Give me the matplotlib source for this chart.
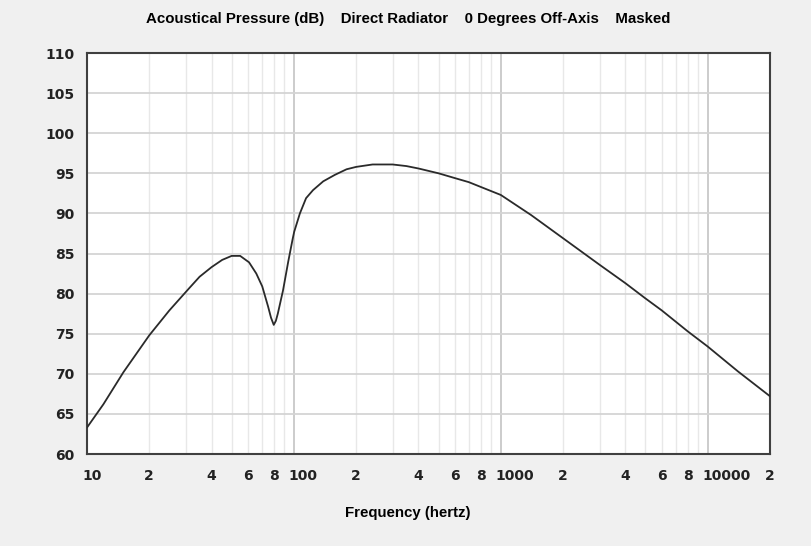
import numpy as np
import matplotlib
matplotlib.use("Agg")
import matplotlib.pyplot as plt
from matplotlib.transforms import offset_copy

# response (Hz, dB)
freq = [10, 12, 15, 20, 25, 31, 35, 40, 45, 50, 55, 60.7, 65.8, 70.3, 75,
        77.5, 79.9, 81.8, 83.6, 88.6, 93.9, 98.6, 100.3, 106.9, 114.5, 123.7,
        138.6, 157.6, 179.6, 200, 240, 300, 350, 400, 500, 600, 700, 800,
        1000, 1400, 2000, 3000, 4000, 5000, 6000, 8000, 10000, 14000, 20000]
spl = [63.3, 66.2, 70.2, 74.8, 77.9, 80.6, 82.1, 83.3, 84.2, 84.7, 84.7,
       83.9, 82.5, 80.9, 78.4, 77.0, 76.1, 76.6, 77.5, 80.4, 84.0, 86.8,
       87.7, 90.0, 91.9, 92.9, 94.0, 94.8, 95.5, 95.8, 96.1, 96.1, 95.9,
       95.6, 95.0, 94.4, 93.9, 93.3, 92.3, 89.8, 86.9, 83.6, 81.3, 79.4,
       77.9, 75.3, 73.4, 70.3, 67.2]

xticks = [10, 20, 40, 60, 80, 100, 200, 400, 600, 800, 1000,
          2000, 4000, 6000, 8000, 10000, 20000]
xlabels = ["10", "2", "4", "6", "8", "100", "2", "4", "6", "8", "1000",
           "2", "4", "6", "8", "10000", "2"]
yticks = list(range(60, 111, 5))

title = "Acoustical Pressure (dB)    Direct Radiator    0 Degrees Off-Axis    Masked"
label_font = ["Liberation Sans", "DejaVu Sans"]

fig = plt.figure(figsize=(8.11, 5.46), dpi=100, facecolor="#f0f0f0")
ax = fig.add_axes([87/811, 1-454/546, (770-87)/811, (454-53)/546])
ax.set_facecolor("white")

# grid: minor lines light, decade lines darker
for d in [10, 100, 1000, 10000]:
    for k in range(2, 10):
        f = d*k
        if f < 20000:
            ax.axvline(f, color="#e8e8e8", lw=1.0, zorder=1)
for f in [100, 1000, 10000]:
    ax.axvline(f, color="#c4c4c4", lw=1.2, zorder=1)
for v in yticks[1:-1]:
    ax.axhline(v, color="#d4d4d4", lw=1.3, zorder=1)

ax.plot(freq, spl, color="#2a2a2a", lw=1.3, zorder=3,
        solid_joinstyle="round", solid_capstyle="round")

ax.set_xscale("log")
ax.set_xlim(10, 20000)
ax.set_ylim(60, 110)
ax.minorticks_off()
ax.set_yticks(yticks)
ax.set_yticklabels([str(v) for v in yticks], fontsize=10, fontweight="bold",
                   color="#222222")
ax.set_xticks([])
ax.tick_params(length=0, pad=9)

# x labels start just left of their gridline
trans = offset_copy(ax.get_xaxis_transform(), fig=fig, x=-5, y=0, units="dots")
for f, s in zip(xticks, xlabels):
    ax.text(f, -0.055, s, transform=trans, ha="left", va="center",
            fontsize=10, fontweight="bold", color="#222222")

for sp in ax.spines.values():
    sp.set_color("#404040")
    sp.set_linewidth(1.5)

fig.text(408/811, 1-19/546, title, ha="center", va="center",
         fontsize=10.8, fontweight="bold", family=label_font)
fig.text(408/811, 1-513/546, "Frequency (hertz)", ha="center", va="center",
         fontsize=10.8, fontweight="bold", family=label_font)

fig.savefig("out.png", dpi=100, facecolor=fig.get_facecolor())
